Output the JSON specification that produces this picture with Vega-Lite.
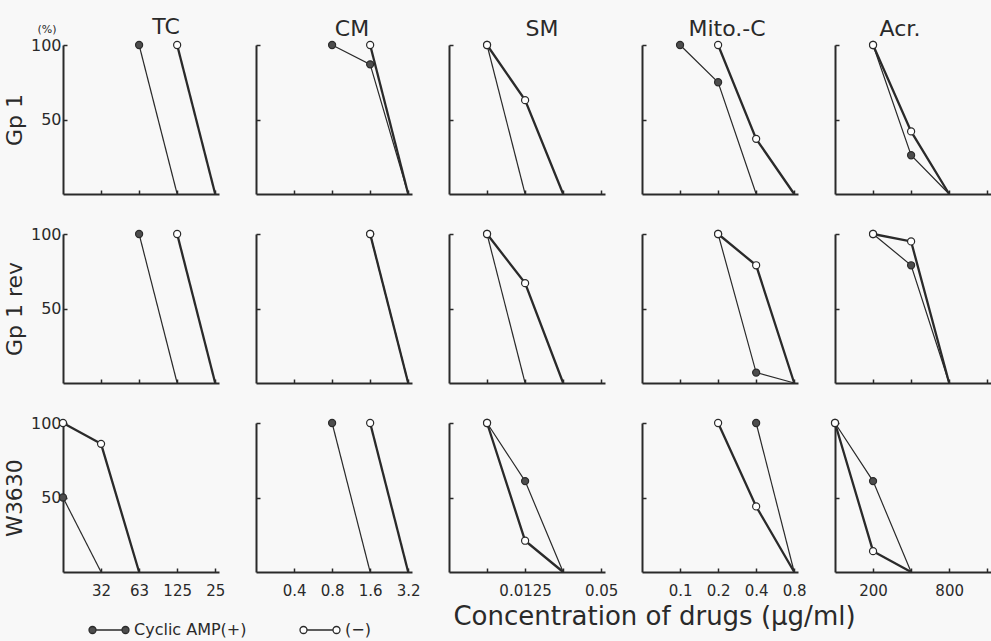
{
  "$schema": "https://vega.github.io/schema/vega-lite/v6.json",
  "background": "#f8f8f8",
  "padding": {"left": 3, "top": 16, "right": 0, "bottom": 45},
  "datasets": {
    "d": [
      {"g": "Gp 1", "d": "TC", "s": "Cyclic AMP(+)", "i": 2, "p": 100},
      {"g": "Gp 1", "d": "TC", "s": "Cyclic AMP(+)", "i": 3, "p": 0},
      {"g": "Gp 1", "d": "TC", "s": "(−)", "i": 3, "p": 100},
      {"g": "Gp 1", "d": "TC", "s": "(−)", "i": 4, "p": 0},
      {"g": "Gp 1", "d": "CM", "s": "Cyclic AMP(+)", "i": 2, "p": 100},
      {"g": "Gp 1", "d": "CM", "s": "Cyclic AMP(+)", "i": 3, "p": 87},
      {"g": "Gp 1", "d": "CM", "s": "Cyclic AMP(+)", "i": 4, "p": 0},
      {"g": "Gp 1", "d": "CM", "s": "(−)", "i": 3, "p": 100},
      {"g": "Gp 1", "d": "CM", "s": "(−)", "i": 4, "p": 0},
      {"g": "Gp 1", "d": "SM", "s": "Cyclic AMP(+)", "i": 1, "p": 100},
      {"g": "Gp 1", "d": "SM", "s": "Cyclic AMP(+)", "i": 2, "p": 0},
      {"g": "Gp 1", "d": "SM", "s": "(−)", "i": 1, "p": 100},
      {"g": "Gp 1", "d": "SM", "s": "(−)", "i": 2, "p": 63},
      {"g": "Gp 1", "d": "SM", "s": "(−)", "i": 3, "p": 0},
      {"g": "Gp 1", "d": "Mito", "s": "Cyclic AMP(+)", "i": 1, "p": 100},
      {"g": "Gp 1", "d": "Mito", "s": "Cyclic AMP(+)", "i": 2, "p": 75},
      {"g": "Gp 1", "d": "Mito", "s": "Cyclic AMP(+)", "i": 3, "p": 0},
      {"g": "Gp 1", "d": "Mito", "s": "(−)", "i": 2, "p": 100},
      {"g": "Gp 1", "d": "Mito", "s": "(−)", "i": 3, "p": 37},
      {"g": "Gp 1", "d": "Mito", "s": "(−)", "i": 4, "p": 0},
      {"g": "Gp 1", "d": "Acr", "s": "Cyclic AMP(+)", "i": 1, "p": 100},
      {"g": "Gp 1", "d": "Acr", "s": "Cyclic AMP(+)", "i": 2, "p": 26},
      {"g": "Gp 1", "d": "Acr", "s": "Cyclic AMP(+)", "i": 3, "p": 0},
      {"g": "Gp 1", "d": "Acr", "s": "(−)", "i": 1, "p": 100},
      {"g": "Gp 1", "d": "Acr", "s": "(−)", "i": 2, "p": 42},
      {"g": "Gp 1", "d": "Acr", "s": "(−)", "i": 3, "p": 0},

      {"g": "Gp 1 rev", "d": "TC", "s": "Cyclic AMP(+)", "i": 2, "p": 100},
      {"g": "Gp 1 rev", "d": "TC", "s": "Cyclic AMP(+)", "i": 3, "p": 0},
      {"g": "Gp 1 rev", "d": "TC", "s": "(−)", "i": 3, "p": 100},
      {"g": "Gp 1 rev", "d": "TC", "s": "(−)", "i": 4, "p": 0},
      {"g": "Gp 1 rev", "d": "CM", "s": "Cyclic AMP(+)", "i": 3, "p": 100},
      {"g": "Gp 1 rev", "d": "CM", "s": "Cyclic AMP(+)", "i": 4, "p": 0},
      {"g": "Gp 1 rev", "d": "CM", "s": "(−)", "i": 3, "p": 100},
      {"g": "Gp 1 rev", "d": "CM", "s": "(−)", "i": 4, "p": 0},
      {"g": "Gp 1 rev", "d": "SM", "s": "Cyclic AMP(+)", "i": 1, "p": 100},
      {"g": "Gp 1 rev", "d": "SM", "s": "Cyclic AMP(+)", "i": 2, "p": 0},
      {"g": "Gp 1 rev", "d": "SM", "s": "(−)", "i": 1, "p": 100},
      {"g": "Gp 1 rev", "d": "SM", "s": "(−)", "i": 2, "p": 67},
      {"g": "Gp 1 rev", "d": "SM", "s": "(−)", "i": 3, "p": 0},
      {"g": "Gp 1 rev", "d": "Mito", "s": "Cyclic AMP(+)", "i": 2, "p": 100},
      {"g": "Gp 1 rev", "d": "Mito", "s": "Cyclic AMP(+)", "i": 3, "p": 7},
      {"g": "Gp 1 rev", "d": "Mito", "s": "Cyclic AMP(+)", "i": 4, "p": 0},
      {"g": "Gp 1 rev", "d": "Mito", "s": "(−)", "i": 2, "p": 100},
      {"g": "Gp 1 rev", "d": "Mito", "s": "(−)", "i": 3, "p": 79},
      {"g": "Gp 1 rev", "d": "Mito", "s": "(−)", "i": 4, "p": 0},
      {"g": "Gp 1 rev", "d": "Acr", "s": "Cyclic AMP(+)", "i": 1, "p": 100},
      {"g": "Gp 1 rev", "d": "Acr", "s": "Cyclic AMP(+)", "i": 2, "p": 79},
      {"g": "Gp 1 rev", "d": "Acr", "s": "Cyclic AMP(+)", "i": 3, "p": 0},
      {"g": "Gp 1 rev", "d": "Acr", "s": "(−)", "i": 1, "p": 100},
      {"g": "Gp 1 rev", "d": "Acr", "s": "(−)", "i": 2, "p": 95},
      {"g": "Gp 1 rev", "d": "Acr", "s": "(−)", "i": 3, "p": 0},

      {"g": "W3630", "d": "TC", "s": "Cyclic AMP(+)", "i": 0, "p": 50},
      {"g": "W3630", "d": "TC", "s": "Cyclic AMP(+)", "i": 1, "p": 0},
      {"g": "W3630", "d": "TC", "s": "(−)", "i": 0, "p": 100},
      {"g": "W3630", "d": "TC", "s": "(−)", "i": 1, "p": 86},
      {"g": "W3630", "d": "TC", "s": "(−)", "i": 2, "p": 0},
      {"g": "W3630", "d": "CM", "s": "Cyclic AMP(+)", "i": 2, "p": 100},
      {"g": "W3630", "d": "CM", "s": "Cyclic AMP(+)", "i": 3, "p": 0},
      {"g": "W3630", "d": "CM", "s": "(−)", "i": 3, "p": 100},
      {"g": "W3630", "d": "CM", "s": "(−)", "i": 4, "p": 0},
      {"g": "W3630", "d": "SM", "s": "Cyclic AMP(+)", "i": 1, "p": 100},
      {"g": "W3630", "d": "SM", "s": "Cyclic AMP(+)", "i": 2, "p": 61},
      {"g": "W3630", "d": "SM", "s": "Cyclic AMP(+)", "i": 3, "p": 0},
      {"g": "W3630", "d": "SM", "s": "(−)", "i": 1, "p": 100},
      {"g": "W3630", "d": "SM", "s": "(−)", "i": 2, "p": 21},
      {"g": "W3630", "d": "SM", "s": "(−)", "i": 3, "p": 0},
      {"g": "W3630", "d": "Mito", "s": "Cyclic AMP(+)", "i": 3, "p": 100},
      {"g": "W3630", "d": "Mito", "s": "Cyclic AMP(+)", "i": 4, "p": 0},
      {"g": "W3630", "d": "Mito", "s": "(−)", "i": 2, "p": 100},
      {"g": "W3630", "d": "Mito", "s": "(−)", "i": 3, "p": 44},
      {"g": "W3630", "d": "Mito", "s": "(−)", "i": 4, "p": 0},
      {"g": "W3630", "d": "Acr", "s": "Cyclic AMP(+)", "i": 0, "p": 100},
      {"g": "W3630", "d": "Acr", "s": "Cyclic AMP(+)", "i": 1, "p": 61},
      {"g": "W3630", "d": "Acr", "s": "Cyclic AMP(+)", "i": 2, "p": 0},
      {"g": "W3630", "d": "Acr", "s": "(−)", "i": 0, "p": 100},
      {"g": "W3630", "d": "Acr", "s": "(−)", "i": 1, "p": 14},
      {"g": "W3630", "d": "Acr", "s": "(−)", "i": 2, "p": 0}
    ],
    "pct": [{"t": "(%)", "x": 0, "y": 100}]
  },
  "columns": 5,
  "spacing": {"row": 40, "column": 37},
  "bounds": "flush",
  "concat": [
    {"width": 156, "height": 149,
     "title": {"text": "TC", "dx": 25, "offset": -15},
     "layer": [
       {"data": {"name": "d"}, "transform": [{"filter": "datum.g=='Gp 1'&&datum.d=='TC'"}],
        "mark": {"type": "line", "color": "#2a2a2a"},
        "encoding": {
          "x": {"field": "i", "type": "quantitative", "scale": {"domain": [0, 4.1], "nice": false}, "axis": {"values": [1, 2, 3, 4], "labels": false, "title": null}},
          "y": {"field": "p", "type": "quantitative", "scale": {"domain": [0, 100]}, "axis": {"values": [50, 100], "title": "Gp 1"}},
          "detail": {"field": "s"},
          "strokeWidth": {"condition": {"test": "datum.s=='(−)'", "value": 2.3}, "value": 1.2}}},
       {"data": {"name": "d"}, "transform": [{"filter": "datum.g=='Gp 1'&&datum.d=='TC'&&datum.p>0"}],
        "mark": {"type": "point", "filled": true, "size": 50, "stroke": "#2a2a2a", "strokeWidth": 1.2, "opacity": 1},
        "encoding": {
          "x": {"field": "i", "type": "quantitative"},
          "y": {"field": "p", "type": "quantitative"},
          "fill": {"field": "s", "type": "nominal", "title": null, "scale": {"domain": ["Cyclic AMP(+)", "(−)"], "range": ["#4d4d4d", "#ffffff"]},
            "legend": {"orient": "none", "legendX": 25, "legendY": 564, "direction": "horizontal", "title": null}}}},
       {"data": {"name": "pct"},
        "mark": {"type": "text", "dx": -16, "dy": -15, "fontSize": 11, "color": "#2a2a2a"},
        "encoding": {"text": {"field": "t", "type": "nominal"}, "x": {"field": "x", "type": "quantitative"}, "y": {"field": "y", "type": "quantitative"}}}
     ]},
    {"width": 156, "height": 149, "data": {"name": "d"},
     "transform": [{"filter": "datum.g=='Gp 1'&&datum.d=='CM'"}],
     "title": {"text": "CM", "dx": 18},
     "encoding": {
       "x": {"field": "i", "type": "quantitative", "scale": {"domain": [0, 4.1], "nice": false}, "axis": {"values": [1, 2, 3, 4], "labels": false, "title": null}},
       "y": {"field": "p", "type": "quantitative", "scale": {"domain": [0, 100]}, "axis": {"values": [50, 100], "labels": false, "title": null}}
     },
     "layer": [
       {"mark": {"type": "line", "color": "#2a2a2a"}, "encoding": {"detail": {"field": "s"}, "strokeWidth": {"condition": {"test": "datum.s=='(−)'", "value": 2.3}, "value": 1.2}}},
       {"transform": [{"filter": "datum.p>0"}], "mark": {"type": "point", "filled": true, "size": 50, "stroke": "#2a2a2a", "strokeWidth": 1.2, "opacity": 1}, "encoding": {"fill": {"field": "s", "type": "nominal", "title": null, "scale": {"domain": ["Cyclic AMP(+)", "(−)"], "range": ["#4d4d4d", "#ffffff"]}}}}
     ]},
    {"width": 156, "height": 149, "data": {"name": "d"},
     "transform": [{"filter": "datum.g=='Gp 1'&&datum.d=='SM'"}],
     "title": {"text": "SM", "dx": 15},
     "encoding": {
       "x": {"field": "i", "type": "quantitative", "scale": {"domain": [0, 4.1], "nice": false}, "axis": {"values": [1, 2, 3, 4], "labels": false, "title": null}},
       "y": {"field": "p", "type": "quantitative", "scale": {"domain": [0, 100]}, "axis": {"values": [50, 100], "labels": false, "title": null}}
     },
     "layer": [
       {"mark": {"type": "line", "color": "#2a2a2a"}, "encoding": {"detail": {"field": "s"}, "strokeWidth": {"condition": {"test": "datum.s=='(−)'", "value": 2.3}, "value": 1.2}}},
       {"transform": [{"filter": "datum.p>0"}], "mark": {"type": "point", "filled": true, "size": 50, "stroke": "#2a2a2a", "strokeWidth": 1.2, "opacity": 1}, "encoding": {"fill": {"field": "s", "type": "nominal", "title": null, "scale": {"domain": ["Cyclic AMP(+)", "(−)"], "range": ["#4d4d4d", "#ffffff"]}}}}
     ]},
    {"width": 156, "height": 149, "data": {"name": "d"},
     "transform": [{"filter": "datum.g=='Gp 1'&&datum.d=='Mito'"}],
     "title": {"text": "Mito.-C", "dx": 7},
     "encoding": {
       "x": {"field": "i", "type": "quantitative", "scale": {"domain": [0, 4.1], "nice": false}, "axis": {"values": [1, 2, 3, 4], "labels": false, "title": null}},
       "y": {"field": "p", "type": "quantitative", "scale": {"domain": [0, 100]}, "axis": {"values": [50, 100], "labels": false, "title": null}}
     },
     "layer": [
       {"mark": {"type": "line", "color": "#2a2a2a"}, "encoding": {"detail": {"field": "s"}, "strokeWidth": {"condition": {"test": "datum.s=='(−)'", "value": 2.3}, "value": 1.2}}},
       {"transform": [{"filter": "datum.p>0"}], "mark": {"type": "point", "filled": true, "size": 50, "stroke": "#2a2a2a", "strokeWidth": 1.2, "opacity": 1}, "encoding": {"fill": {"field": "s", "type": "nominal", "title": null, "scale": {"domain": ["Cyclic AMP(+)", "(−)"], "range": ["#4d4d4d", "#ffffff"]}}}}
     ]},
    {"width": 156, "height": 149, "data": {"name": "d"},
     "transform": [{"filter": "datum.g=='Gp 1'&&datum.d=='Acr'"}],
     "title": {"text": "Acr.", "dx": -13},
     "encoding": {
       "x": {"field": "i", "type": "quantitative", "scale": {"domain": [0, 4.1], "nice": false}, "axis": {"values": [1, 2, 3, 4], "labels": false, "title": null}},
       "y": {"field": "p", "type": "quantitative", "scale": {"domain": [0, 100]}, "axis": {"values": [50, 100], "labels": false, "title": null}}
     },
     "layer": [
       {"mark": {"type": "line", "color": "#2a2a2a"}, "encoding": {"detail": {"field": "s"}, "strokeWidth": {"condition": {"test": "datum.s=='(−)'", "value": 2.3}, "value": 1.2}}},
       {"transform": [{"filter": "datum.p>0"}], "mark": {"type": "point", "filled": true, "size": 50, "stroke": "#2a2a2a", "strokeWidth": 1.2, "opacity": 1}, "encoding": {"fill": {"field": "s", "type": "nominal", "title": null, "scale": {"domain": ["Cyclic AMP(+)", "(−)"], "range": ["#4d4d4d", "#ffffff"]}}}}
     ]},

    {"width": 156, "height": 149, "data": {"name": "d"},
     "transform": [{"filter": "datum.g=='Gp 1 rev'&&datum.d=='TC'"}],
     "encoding": {
       "x": {"field": "i", "type": "quantitative", "scale": {"domain": [0, 4.1], "nice": false}, "axis": {"values": [1, 2, 3, 4], "labels": false, "title": null}},
       "y": {"field": "p", "type": "quantitative", "scale": {"domain": [0, 100]}, "axis": {"values": [50, 100], "title": "Gp 1 rev"}}
     },
     "layer": [
       {"mark": {"type": "line", "color": "#2a2a2a"}, "encoding": {"detail": {"field": "s"}, "strokeWidth": {"condition": {"test": "datum.s=='(−)'", "value": 2.3}, "value": 1.2}}},
       {"transform": [{"filter": "datum.p>0"}], "mark": {"type": "point", "filled": true, "size": 50, "stroke": "#2a2a2a", "strokeWidth": 1.2, "opacity": 1}, "encoding": {"fill": {"field": "s", "type": "nominal", "title": null, "scale": {"domain": ["Cyclic AMP(+)", "(−)"], "range": ["#4d4d4d", "#ffffff"]}}}}
     ]},
    {"width": 156, "height": 149, "data": {"name": "d"},
     "transform": [{"filter": "datum.g=='Gp 1 rev'&&datum.d=='CM'"}],
     "encoding": {
       "x": {"field": "i", "type": "quantitative", "scale": {"domain": [0, 4.1], "nice": false}, "axis": {"values": [1, 2, 3, 4], "labels": false, "title": null}},
       "y": {"field": "p", "type": "quantitative", "scale": {"domain": [0, 100]}, "axis": {"values": [50, 100], "labels": false, "title": null}}
     },
     "layer": [
       {"mark": {"type": "line", "color": "#2a2a2a"}, "encoding": {"detail": {"field": "s"}, "strokeWidth": {"condition": {"test": "datum.s=='(−)'", "value": 2.3}, "value": 1.2}}},
       {"transform": [{"filter": "datum.p>0"}], "mark": {"type": "point", "filled": true, "size": 50, "stroke": "#2a2a2a", "strokeWidth": 1.2, "opacity": 1}, "encoding": {"fill": {"field": "s", "type": "nominal", "title": null, "scale": {"domain": ["Cyclic AMP(+)", "(−)"], "range": ["#4d4d4d", "#ffffff"]}}}}
     ]},
    {"width": 156, "height": 149, "data": {"name": "d"},
     "transform": [{"filter": "datum.g=='Gp 1 rev'&&datum.d=='SM'"}],
     "encoding": {
       "x": {"field": "i", "type": "quantitative", "scale": {"domain": [0, 4.1], "nice": false}, "axis": {"values": [1, 2, 3, 4], "labels": false, "title": null}},
       "y": {"field": "p", "type": "quantitative", "scale": {"domain": [0, 100]}, "axis": {"values": [50, 100], "labels": false, "title": null}}
     },
     "layer": [
       {"mark": {"type": "line", "color": "#2a2a2a"}, "encoding": {"detail": {"field": "s"}, "strokeWidth": {"condition": {"test": "datum.s=='(−)'", "value": 2.3}, "value": 1.2}}},
       {"transform": [{"filter": "datum.p>0"}], "mark": {"type": "point", "filled": true, "size": 50, "stroke": "#2a2a2a", "strokeWidth": 1.2, "opacity": 1}, "encoding": {"fill": {"field": "s", "type": "nominal", "title": null, "scale": {"domain": ["Cyclic AMP(+)", "(−)"], "range": ["#4d4d4d", "#ffffff"]}}}}
     ]},
    {"width": 156, "height": 149, "data": {"name": "d"},
     "transform": [{"filter": "datum.g=='Gp 1 rev'&&datum.d=='Mito'"}],
     "encoding": {
       "x": {"field": "i", "type": "quantitative", "scale": {"domain": [0, 4.1], "nice": false}, "axis": {"values": [1, 2, 3, 4], "labels": false, "title": null}},
       "y": {"field": "p", "type": "quantitative", "scale": {"domain": [0, 100]}, "axis": {"values": [50, 100], "labels": false, "title": null}}
     },
     "layer": [
       {"mark": {"type": "line", "color": "#2a2a2a"}, "encoding": {"detail": {"field": "s"}, "strokeWidth": {"condition": {"test": "datum.s=='(−)'", "value": 2.3}, "value": 1.2}}},
       {"transform": [{"filter": "datum.p>0"}], "mark": {"type": "point", "filled": true, "size": 50, "stroke": "#2a2a2a", "strokeWidth": 1.2, "opacity": 1}, "encoding": {"fill": {"field": "s", "type": "nominal", "title": null, "scale": {"domain": ["Cyclic AMP(+)", "(−)"], "range": ["#4d4d4d", "#ffffff"]}}}}
     ]},
    {"width": 156, "height": 149, "data": {"name": "d"},
     "transform": [{"filter": "datum.g=='Gp 1 rev'&&datum.d=='Acr'"}],
     "encoding": {
       "x": {"field": "i", "type": "quantitative", "scale": {"domain": [0, 4.1], "nice": false}, "axis": {"values": [1, 2, 3, 4], "labels": false, "title": null}},
       "y": {"field": "p", "type": "quantitative", "scale": {"domain": [0, 100]}, "axis": {"values": [50, 100], "labels": false, "title": null}}
     },
     "layer": [
       {"mark": {"type": "line", "color": "#2a2a2a"}, "encoding": {"detail": {"field": "s"}, "strokeWidth": {"condition": {"test": "datum.s=='(−)'", "value": 2.3}, "value": 1.2}}},
       {"transform": [{"filter": "datum.p>0"}], "mark": {"type": "point", "filled": true, "size": 50, "stroke": "#2a2a2a", "strokeWidth": 1.2, "opacity": 1}, "encoding": {"fill": {"field": "s", "type": "nominal", "title": null, "scale": {"domain": ["Cyclic AMP(+)", "(−)"], "range": ["#4d4d4d", "#ffffff"]}}}}
     ]},

    {"width": 156, "height": 149, "data": {"name": "d"},
     "transform": [{"filter": "datum.g=='W3630'&&datum.d=='TC'"}],
     "encoding": {
       "x": {"field": "i", "type": "quantitative", "scale": {"domain": [0, 4.1], "nice": false}, "axis": {"values": [1, 2, 3, 4], "title": null, "labelExpr": "datum.value==1?'32':datum.value==2?'63':datum.value==3?'125':'25'"}},
       "y": {"field": "p", "type": "quantitative", "scale": {"domain": [0, 100]}, "axis": {"values": [50, 100], "title": "W3630"}}
     },
     "layer": [
       {"mark": {"type": "line", "color": "#2a2a2a"}, "encoding": {"detail": {"field": "s"}, "strokeWidth": {"condition": {"test": "datum.s=='(−)'", "value": 2.3}, "value": 1.2}}},
       {"transform": [{"filter": "datum.p>0"}], "mark": {"type": "point", "filled": true, "size": 50, "stroke": "#2a2a2a", "strokeWidth": 1.2, "opacity": 1}, "encoding": {"fill": {"field": "s", "type": "nominal", "title": null, "scale": {"domain": ["Cyclic AMP(+)", "(−)"], "range": ["#4d4d4d", "#ffffff"]}}}}
     ]},
    {"width": 156, "height": 149, "data": {"name": "d"},
     "transform": [{"filter": "datum.g=='W3630'&&datum.d=='CM'"}],
     "encoding": {
       "x": {"field": "i", "type": "quantitative", "scale": {"domain": [0, 4.1], "nice": false}, "axis": {"values": [1, 2, 3, 4], "title": null, "labelExpr": "datum.value==1?'0.4':datum.value==2?'0.8':datum.value==3?'1.6':'3.2'"}},
       "y": {"field": "p", "type": "quantitative", "scale": {"domain": [0, 100]}, "axis": {"values": [50, 100], "labels": false, "title": null}}
     },
     "layer": [
       {"mark": {"type": "line", "color": "#2a2a2a"}, "encoding": {"detail": {"field": "s"}, "strokeWidth": {"condition": {"test": "datum.s=='(−)'", "value": 2.3}, "value": 1.2}}},
       {"transform": [{"filter": "datum.p>0"}], "mark": {"type": "point", "filled": true, "size": 50, "stroke": "#2a2a2a", "strokeWidth": 1.2, "opacity": 1}, "encoding": {"fill": {"field": "s", "type": "nominal", "title": null, "scale": {"domain": ["Cyclic AMP(+)", "(−)"], "range": ["#4d4d4d", "#ffffff"]}}}}
     ]},
    {"width": 156, "height": 149, "data": {"name": "d"},
     "transform": [{"filter": "datum.g=='W3630'&&datum.d=='SM'"}],
     "encoding": {
       "x": {"field": "i", "type": "quantitative", "scale": {"domain": [0, 4.1], "nice": false}, "axis": {"values": [1, 2, 3, 4], "title": null, "labelExpr": "datum.value==2?'0.0125':datum.value==4?'0.05':''"}},
       "y": {"field": "p", "type": "quantitative", "scale": {"domain": [0, 100]}, "axis": {"values": [50, 100], "labels": false, "title": null}}
     },
     "layer": [
       {"mark": {"type": "line", "color": "#2a2a2a"}, "encoding": {"detail": {"field": "s"}, "strokeWidth": {"condition": {"test": "datum.s=='(−)'", "value": 2.3}, "value": 1.2}}},
       {"transform": [{"filter": "datum.p>0"}], "mark": {"type": "point", "filled": true, "size": 50, "stroke": "#2a2a2a", "strokeWidth": 1.2, "opacity": 1}, "encoding": {"fill": {"field": "s", "type": "nominal", "title": null, "scale": {"domain": ["Cyclic AMP(+)", "(−)"], "range": ["#4d4d4d", "#ffffff"]}}}}
     ]},
    {"width": 156, "height": 149, "data": {"name": "d"},
     "transform": [{"filter": "datum.g=='W3630'&&datum.d=='Mito'"}],
     "encoding": {
       "x": {"field": "i", "type": "quantitative", "scale": {"domain": [0, 4.1], "nice": false}, "axis": {"values": [1, 2, 3, 4], "labelExpr": "datum.value==1?'0.1':datum.value==2?'0.2':datum.value==3?'0.4':'0.8'", "title": "Concentration of drugs (μg/ml)", "titleX": 12, "titleY": 52, "titleAlign": "center", "titleBaseline": "alphabetic", "titleFontSize": 26, "titleFontWeight": "normal", "titleColor": "#2a2a2a"}},
       "y": {"field": "p", "type": "quantitative", "scale": {"domain": [0, 100]}, "axis": {"values": [50, 100], "labels": false, "title": null}}
     },
     "layer": [
       {"mark": {"type": "line", "color": "#2a2a2a"}, "encoding": {"detail": {"field": "s"}, "strokeWidth": {"condition": {"test": "datum.s=='(−)'", "value": 2.3}, "value": 1.2}}},
       {"transform": [{"filter": "datum.p>0"}], "mark": {"type": "point", "filled": true, "size": 50, "stroke": "#2a2a2a", "strokeWidth": 1.2, "opacity": 1}, "encoding": {"fill": {"field": "s", "type": "nominal", "title": null, "scale": {"domain": ["Cyclic AMP(+)", "(−)"], "range": ["#4d4d4d", "#ffffff"]}}}}
     ]},
    {"width": 156, "height": 149, "data": {"name": "d"},
     "transform": [{"filter": "datum.g=='W3630'&&datum.d=='Acr'"}],
     "encoding": {
       "x": {"field": "i", "type": "quantitative", "scale": {"domain": [0, 4.1], "nice": false}, "axis": {"values": [1, 2, 3, 4], "title": null, "labelExpr": "datum.value==1?'200':datum.value==3?'800':''"}},
       "y": {"field": "p", "type": "quantitative", "scale": {"domain": [0, 100]}, "axis": {"values": [50, 100], "labels": false, "title": null}}
     },
     "layer": [
       {"mark": {"type": "line", "color": "#2a2a2a"}, "encoding": {"detail": {"field": "s"}, "strokeWidth": {"condition": {"test": "datum.s=='(−)'", "value": 2.3}, "value": 1.2}}},
       {"transform": [{"filter": "datum.p>0"}], "mark": {"type": "point", "filled": true, "size": 50, "stroke": "#2a2a2a", "strokeWidth": 1.2, "opacity": 1}, "encoding": {"fill": {"field": "s", "type": "nominal", "title": null, "scale": {"domain": ["Cyclic AMP(+)", "(−)"], "range": ["#4d4d4d", "#ffffff"]}}}}
     ]}
  ],
  "config": {
    "font": "DejaVu Sans",
    "view": {"stroke": null},
    "title": {"fontSize": 22, "fontWeight": "normal", "color": "#2a2a2a", "offset": -2, "anchor": "middle", "frame": "group"},
    "axis": {
      "domainColor": "#2a2a2a", "domainWidth": 2,
      "tickColor": "#2a2a2a", "tickWidth": 1.5, "tickSize": -4,
      "grid": false,
      "labelColor": "#2a2a2a", "labelFontSize": 15,
      "titleColor": "#2a2a2a", "titleFontSize": 22, "titleFontWeight": "normal", "titlePadding": 4
    },
    "axisX": {"labelPadding": 15},
    "axisY": {"labelPadding": 6, "labelFontSize": 16},
    "legend": {
      "orient": "none", "legendX": 25, "legendY": 564, "direction": "horizontal",
      "symbolType": "M-0.65,0L0.65,0M-1,0A0.175,0.175,0,1,0,-0.65,0A0.175,0.175,0,1,0,-1,0M0.65,0A0.175,0.175,0,1,0,1,0A0.175,0.175,0,1,0,0.65,0",
      "symbolSize": 1600, "symbolStrokeColor": "#2a2a2a", "symbolStrokeWidth": 1.3,
      "labelFontSize": 16, "labelColor": "#2a2a2a", "labelOffset": 4, "labelLimit": 300,
      "columnPadding": 50, "padding": 0
    }
  }
}
